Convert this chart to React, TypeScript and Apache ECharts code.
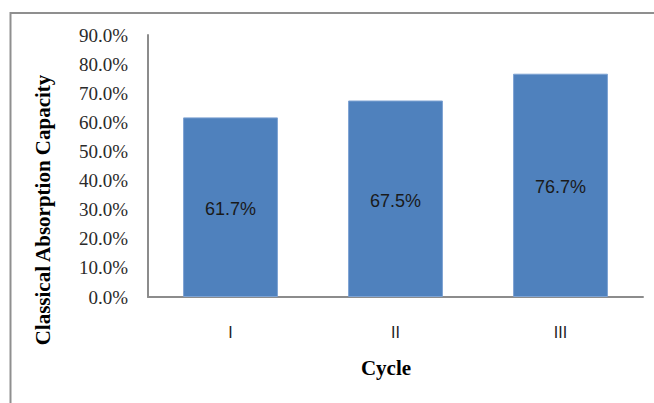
import React, { useEffect, useRef } from "react";
import * as echarts from "echarts";

const cycles = ["I", "II", "III"];
const capacity = [61.7, 67.5, 76.7];
const yTicks = { min: 0, max: 90, interval: 10 };
const yTitle = "Classical Absorption Capacity";
const xTitle = "Cycle";

export default function App() {
  const ref = useRef<HTMLDivElement>(null);

  useEffect(() => {
    if (!ref.current) return;
    const chart = echarts.init(ref.current, null, { renderer: "svg" });
    chart.setOption({
      animation: false,
      backgroundColor: "#ffffff",
      grid: { left: 148, right: 11, top: 35, bottom: 106 },
      xAxis: {
        type: "category",
        data: cycles,
        axisLine: { lineStyle: { color: "#8c8c8c", width: 2 } },
        axisTick: { show: false },
        axisLabel: {
          margin: 27,
          color: "#222",
          fontFamily: "Liberation Sans",
          fontSize: 16,
        },
      },
      yAxis: {
        type: "value",
        min: yTicks.min,
        max: yTicks.max,
        interval: yTicks.interval,
        splitLine: { show: false },
        axisLine: { show: true, lineStyle: { color: "#8c8c8c", width: 2 } },
        axisTick: { show: false },
        axisLabel: {
          margin: 20,
          color: "#2a2a2a",
          fontFamily: "Liberation Serif",
          fontSize: 19,
          formatter: (v: number) => v.toFixed(1) + "%",
        },
      },
      series: [
        {
          type: "bar",
          data: capacity,
          barWidth: "57.5%",
          itemStyle: { color: "#4f81bd", borderColor: "#7ea3d3", borderWidth: 1 },
          label: {
            show: true,
            position: "inside",
            offset: [0, 2],
            color: "#1a1a1a",
            fontFamily: "Liberation Sans",
            fontSize: 18,
            formatter: (p: any) => p.value.toFixed(1) + "%",
          },
        },
      ],
      graphic: [
        {
          type: "rect",
          shape: { x: 10.5, y: 13, width: 700, height: 500 },
          style: { fill: "none", stroke: "#8f8f8f", lineWidth: 2 },
          silent: true,
        },
        {
          type: "text",
          x: 43,
          y: 210,
          rotation: Math.PI / 2,
          style: {
            text: yTitle,
            align: "center",
            verticalAlign: "middle",
            font: "bold 21px 'Liberation Serif'",
            fill: "#000",
          },
        },
        {
          type: "text",
          x: 386,
          y: 368,
          style: {
            text: xTitle,
            align: "center",
            verticalAlign: "middle",
            font: "bold 21px 'Liberation Serif'",
            fill: "#000",
          },
        },
      ],
    });
    return () => chart.dispose();
  }, []);

  return (
    <div
      ref={ref}
      style={{ position: "fixed", left: 0, top: 0, width: 654, height: 403 }}
    />
  );
}
